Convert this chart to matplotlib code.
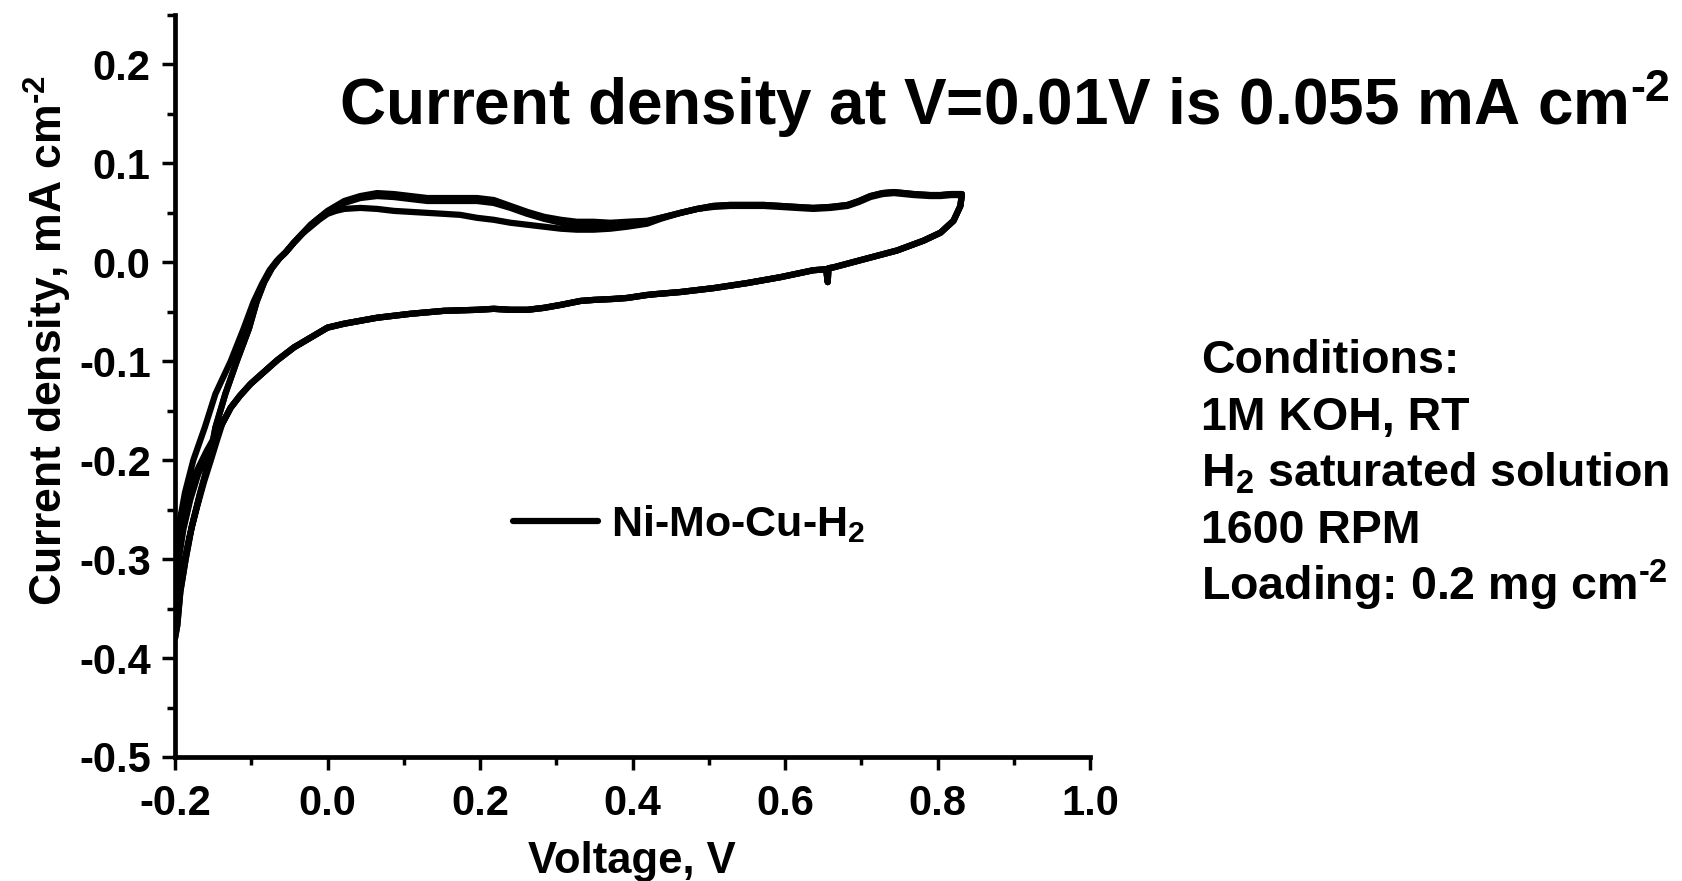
import matplotlib
matplotlib.use("Agg")
import matplotlib.pyplot as plt
from matplotlib.ticker import MultipleLocator, FormatStrFormatter

# ---------------- data ----------------
# anodic sweep, initial rise (first cycle on the left edge of the band)
V_start_c1 = [-0.200, -0.195, -0.187, -0.176, -0.161, -0.147, -0.127, -0.110, -0.097, -0.086, -0.076, -0.066]
J_start_c1 = [-0.290, -0.267, -0.233, -0.200, -0.167, -0.133, -0.100, -0.067, -0.040, -0.022, -0.008, 0.002]
# anodic sweep, initial rise (later cycles on the right edge of the band)
V_start_c2 = [-0.200, -0.197, -0.193, -0.186, -0.178, -0.167, -0.155, -0.147, -0.134, -0.119, -0.103, -0.093, -0.083, -0.073, -0.063]
J_start_c2 = [-0.380, -0.367, -0.333, -0.300, -0.267, -0.233, -0.200, -0.167, -0.133, -0.100, -0.067, -0.040, -0.020, -0.006, 0.004]

# anodic sweep, common potentials
V_fwd = [-0.055, -0.044, -0.033, -0.022, -0.011, 0.000, 0.011, 0.022, 0.043, 0.065,
         0.087, 0.109, 0.131, 0.153, 0.174, 0.196, 0.218, 0.240, 0.262, 0.284,
         0.306, 0.327, 0.349, 0.371, 0.393, 0.419, 0.437, 0.463, 0.485, 0.506,
         0.528, 0.550, 0.572, 0.594, 0.615, 0.637, 0.660, 0.682, 0.697, 0.712,
         0.728, 0.743, 0.769, 0.790, 0.804, 0.818, 0.832]
J_fwd_c1 = [0.010, 0.020, 0.029, 0.036, 0.043, 0.049, 0.052, 0.054, 0.055, 0.054,
            0.052, 0.051, 0.050, 0.049, 0.048, 0.045, 0.043, 0.040, 0.038, 0.036,
            0.034, 0.033, 0.033, 0.034, 0.036, 0.039, 0.044, 0.050, 0.054, 0.057,
            0.058, 0.058, 0.058, 0.057, 0.056, 0.055, 0.056, 0.058, 0.062, 0.067,
            0.070, 0.071, 0.069, 0.068, 0.068, 0.069, 0.069]
J_fwd_c2 = [0.010, 0.020, 0.029, 0.038, 0.045, 0.052, 0.057, 0.062, 0.067, 0.070,
            0.069, 0.067, 0.065, 0.065, 0.065, 0.065, 0.063, 0.057, 0.051, 0.046,
            0.043, 0.041, 0.041, 0.040, 0.041, 0.042, 0.045, 0.050, 0.054, 0.057,
            0.058, 0.058, 0.058, 0.057, 0.056, 0.055, 0.056, 0.058, 0.062, 0.067,
            0.070, 0.071, 0.069, 0.068, 0.068, 0.069, 0.069]
J_fwd_c3 = [0.010, 0.020, 0.029, 0.038, 0.045, 0.051, 0.056, 0.060, 0.065, 0.067,
            0.066, 0.064, 0.062, 0.062, 0.062, 0.062, 0.060, 0.055, 0.049, 0.044,
            0.040, 0.037, 0.036, 0.036, 0.038, 0.041, 0.045, 0.050, 0.054, 0.056,
            0.057, 0.057, 0.057, 0.056, 0.055, 0.054, 0.055, 0.057, 0.061, 0.066,
            0.069, 0.070, 0.068, 0.067, 0.067, 0.068, 0.068]

# cathodic sweep (common to all cycles)
V_rev = [0.830, 0.821, 0.804, 0.782, 0.747, 0.703, 0.664, 0.657, 0.656, 0.654,
         0.637, 0.594, 0.550, 0.507, 0.463, 0.432, 0.419, 0.393, 0.375, 0.349,
         0.332, 0.306, 0.284, 0.262, 0.240, 0.218, 0.196, 0.153, 0.109, 0.065,
         0.022, 0.000, -0.022, -0.044, -0.066, -0.085, -0.101, -0.115, -0.127, -0.138]
J_rev = [0.057, 0.042, 0.030, 0.022, 0.012, 0.003, -0.005, -0.006, -0.020, -0.007,
         -0.008, -0.015, -0.021, -0.026, -0.030, -0.032, -0.033, -0.036, -0.037, -0.038,
         -0.039, -0.043, -0.046, -0.048, -0.048, -0.047, -0.048, -0.049, -0.052, -0.056,
         -0.062, -0.066, -0.076, -0.086, -0.099, -0.112, -0.123, -0.135, -0.147, -0.163]

# cathodic sweep tails towards the -0.2 V vertex
V_tail_c1 = [-0.138, -0.147, -0.158, -0.169, -0.180, -0.190, -0.197, -0.200]
J_tail_c1 = [-0.163, -0.175, -0.190, -0.207, -0.227, -0.250, -0.272, -0.290]
V_tail_c2 = [-0.138, -0.148, -0.159, -0.170, -0.180, -0.189, -0.195, -0.200]
J_tail_c2 = [-0.163, -0.178, -0.195, -0.215, -0.240, -0.270, -0.300, -0.335]
V_tail_c3 = [-0.138, -0.145, -0.153, -0.162, -0.171, -0.181, -0.190, -0.196, -0.200]
J_tail_c3 = [-0.163, -0.180, -0.200, -0.222, -0.247, -0.277, -0.310, -0.340, -0.365]

series_label = r"Ni-Mo-Cu-H$_{\mathregular{2}}$"
x_ticks_major = [-0.2, 0.0, 0.2, 0.4, 0.6, 0.8, 1.0]
y_ticks_major = [-0.5, -0.4, -0.3, -0.2, -0.1, 0.0, 0.1, 0.2]
title_text = r"Current density at V=0.01V is 0.055 mA cm$^{\text{-2}}$"
conditions_lines = ["Conditions:", "1M KOH, RT", r"H$_{\mathregular{2}}$ saturated solution",
                    "1600 RPM", r"Loading: 0.2 mg cm$^{\text{-2}}$"]
ylabel_text = r"Current density, mA cm$^{\text{-2}}$"

# ---------------- style ----------------
plt.rcParams['font.family'] = ['Liberation Sans', 'DejaVu Sans']
plt.rcParams['font.weight'] = 'bold'
plt.rcParams['mathtext.fontset'] = 'custom'
plt.rcParams['mathtext.rm'] = 'Liberation Sans:bold'
plt.rcParams['mathtext.it'] = 'Liberation Sans:bold'
plt.rcParams['mathtext.bf'] = 'Liberation Sans:bold'
plt.rcParams['mathtext.default'] = 'regular'
plt.rcParams['axes.unicode_minus'] = False

W, H = 1682, 881
fig = plt.figure(figsize=(W / 100, H / 100), dpi=100)
ax_left, ax_right, ax_bottom, ax_top = 175, 1090, 757, 15
ax = fig.add_axes([ax_left / W, 1 - ax_bottom / H, (ax_right - ax_left) / W, (ax_bottom - ax_top) / H])

lw = 4.5
def cycle(vs, js, vf, jf, vr, jr, vt, jt):
    return vs + vf + vr + vt, js + jf + jr + jt

V1, J1 = cycle(V_start_c1, J_start_c1, V_fwd, J_fwd_c1, V_rev, J_rev, V_tail_c1, J_tail_c1)
V2, J2 = cycle(V_start_c2, J_start_c2, V_fwd, J_fwd_c2, V_rev, J_rev, V_tail_c2, J_tail_c2)
V3, J3 = cycle(V_start_c2, J_start_c2, V_fwd, J_fwd_c3, V_rev, J_rev, V_tail_c3, J_tail_c3)

ax.plot(V1, J1, color='black', lw=lw, solid_joinstyle='round', solid_capstyle='round', label=series_label)
ax.plot(V2, J2, color='black', lw=lw, solid_joinstyle='round', solid_capstyle='round')
ax.plot(V3, J3, color='black', lw=lw, solid_joinstyle='round', solid_capstyle='round')

ax.set_xlim(-0.2, 1.0)
ax.set_ylim(-0.5, 0.25)
ax.set_xticks(x_ticks_major)
ax.set_yticks(y_ticks_major)
ax.xaxis.set_minor_locator(MultipleLocator(0.1))
ax.yaxis.set_minor_locator(MultipleLocator(0.05))
ax.xaxis.set_major_formatter(FormatStrFormatter('%.1f'))
ax.yaxis.set_major_formatter(FormatStrFormatter('%.1f'))

for s in ['top', 'right']:
    ax.spines[s].set_visible(False)
for s in ['left', 'bottom']:
    ax.spines[s].set_linewidth(3.4)
    ax.spines[s].set_capstyle('projecting')

ax.tick_params(which='major', direction='out', length=9.5, width=2.5, labelsize=30, pad=8)
ax.tick_params(which='minor', direction='out', length=5.5, width=2.5)
for lab in ax.get_xticklabels() + ax.get_yticklabels():
    lab.set_fontweight('bold')
ax.tick_params(axis='x', which='major', pad=10)

# axis labels
fig.text(63 / W, 1 - 341 / H, ylabel_text, rotation=90,
         rotation_mode='anchor', ha='center', va='baseline', fontsize=32, fontweight='bold')
fig.text(632 / W, 1 - 873 / H, "Voltage, V", ha='center', va='baseline', fontsize=31.4, fontweight='bold')

# headline
fig.text(1670 / W, 1 - 125 / H, title_text, ha='right', va='baseline', fontsize=46, fontweight='bold')

# conditions block
baselines = [373, 430, 487, 543, 600]
for txt, b in zip(conditions_lines, baselines):
    fig.text(1201 / W, 1 - b / H, txt, ha='left', va='baseline', fontsize=33.5, fontweight='bold')

# legend
leg = ax.legend(loc='center left', bbox_to_anchor=(513 / W, 1 - 524 / H), bbox_transform=fig.transFigure,
                frameon=False, fontsize=31, handlelength=1.97, handletextpad=0.3,
                borderpad=0, borderaxespad=0)
for t in leg.get_texts():
    t.set_fontweight('bold')

fig.savefig("out.png", dpi=100)
